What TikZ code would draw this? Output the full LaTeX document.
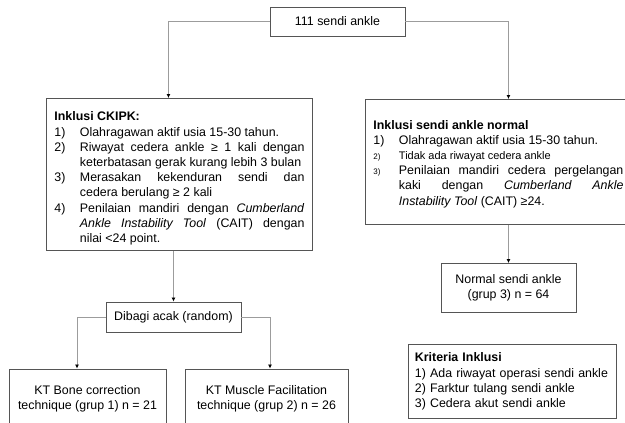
\documentclass[tikz,border=0pt]{standalone}
\usepackage{fontspec}
\setmainfont{Liberation Sans}
\usepackage{tikz}
\usetikzlibrary{arrows,arrows.meta,positioning,calc}

\definecolor{garis}{HTML}{9C9C9C}
\definecolor{bingkai}{HTML}{555555}

% nomor dengan indentasi gantung
\newcommand{\butir}[2]{\par\noindent\hangindent=25.5pt\hangafter=1\makebox[25.5pt][l]{#1}#2\par}
\newcommand{\kecil}{\fontsize{8}{15.2}\selectfont}
\newcommand{\sedang}{\fontsize{11}{15.2}\selectfont}

\begin{document}
\begin{tikzpicture}
  [
    x=1pt, y=-1pt,
    kotak/.style={draw=bingkai, line width=0.9pt, inner sep=0pt, align=center,
      font=\fontsize{12.4}{15.2}\selectfont},
    daftar/.style={kotak, inner xsep=8pt, text width=250pt, align=justify},
    panah/.style={draw=garis, line width=0.8pt, -{Latex[length=4pt,width=4pt,color=black]}}
  ]
    \path[use as bounding box] (0,0) rectangle (625,423);
    \clip (0,0) rectangle (625,423);
    \node[kotak, minimum width=135pt, minimum height=29pt] (total) at (337.5,21.5) {111 sendi ankle};
    \node[daftar, minimum height=152pt, anchor=north west] (ckipk) at (46,98) {%
      \rule{0pt}{17pt}\textbf{Inklusi CKIPK:}\par
      \butir{1)}{Olahragawan aktif usia 15-30 tahun.}
      \butir{2)}{Riwayat cedera ankle ≥ 1 kali dengan\linebreak keterbatasan gerak kurang lebih 3 bulan}
      \butir{3)}{Merasakan kekenduran sendi dan\linebreak cedera berulang ≥ 2 kali}
      \butir{4)}{Penilaian mandiri dengan \textit{Cumberland}\linebreak \textit{Ankle Instability Tool} (CAIT) dengan\linebreak nilai <24 point.}};
    \node[daftar, minimum height=125pt, anchor=north west] (normalin) at (365,99) {%
      \rule{0pt}{13pt}\textbf{Inklusi sendi ankle normal}\par
      \butir{1)}{Olahragawan aktif usia 15-30 tahun.}
      \butir{\kecil 2)}{{\sedang Tidak ada riwayat cedera ankle}}
      \butir{\kecil 3)}{Penilaian mandiri cedera pergelangan\linebreak kaki dengan \textit{Cumberland Ankle}\linebreak \textit{Instability Tool} (CAIT) ≥24.}};
    \node[kotak, minimum width=135pt, minimum height=30pt] (dibagi) at (173.5,317) {Dibagi acak (random)};
    \node[kotak, minimum width=135pt, minimum height=49pt] (normal) at (508.5,288) {Normal sendi ankle\\(grup 3) n = 64};
    \node[kotak, minimum width=157pt, minimum height=59pt] (bone) at (87.5,398.5) {KT Bone correction\\technique (grup 1) n = 21};
    \node[kotak, minimum width=163pt, minimum height=59pt] (muscle) at (266.5,398.5) {KT Muscle Facilitation\\technique (grup 2) n = 26};
    \node[kotak, inner xsep=6.5pt, text width=195pt, align=left, minimum height=74pt, anchor=north west] (kriteria) at (408,344) {%
      \textbf{Kriteria Inklusi}\\1) Ada riwayat operasi sendi ankle\\2) Farktur tulang sendi ankle\\3) Cedera akut sendi ankle};

    \draw[panah] (total.west) -| ([xshift=-11pt]ckipk.north);
    \draw[panah] (total.east) -| ([xshift=10pt]normalin.north);
    \draw[panah] (dibagi.north |- ckipk.south) -- (dibagi.north);
    \draw[panah] (normal.north |- normalin.south) -- (normal.north);
    \draw[panah] (dibagi.west) -| ([xshift=-10.5pt]bone.north);
    \draw[panah] (dibagi.east) -| ([xshift=3.5pt]muscle.north);
  \end{tikzpicture}
\end{document}
